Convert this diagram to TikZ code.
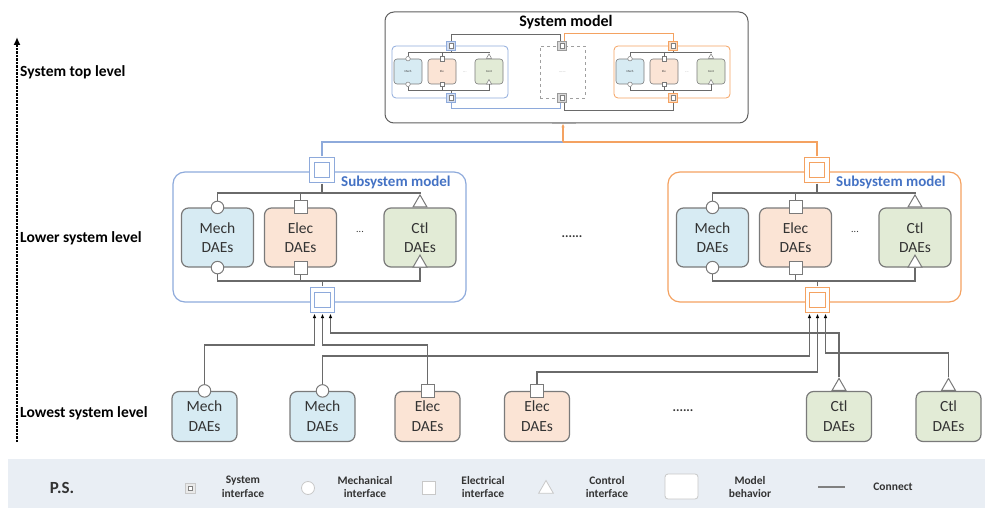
\documentclass[tikz,border=0pt]{standalone}
\usepackage{fontspec}
\setmainfont{Carlito}
\usetikzlibrary{arrows.meta,shapes.geometric,calc}

\definecolor{boxgray}{HTML}{7A7A7A}
\definecolor{linegray}{HTML}{6A6A6A}
\definecolor{subblue}{HTML}{8EAADB}
\definecolor{titleblue}{HTML}{4472C4}
\definecolor{suborange}{HTML}{F4A261}
\definecolor{mechfill}{HTML}{D7EBF3}
\definecolor{elecfill}{HTML}{FBE4D5}
\definecolor{ctlfill}{HTML}{E2EBD6}
\definecolor{bandfill}{HTML}{E9EEF4}
\definecolor{legendgray}{HTML}{C8C8C8}
\definecolor{textdark}{HTML}{333333}
\definecolor{framegray}{HTML}{5F5F5F}
\definecolor{ifgray}{HTML}{9A9A9A}

\begin{document}
\begin{tikzpicture}[x=1pt,y=-1pt,
  daebox/.style={draw=boxgray, line width=1.2pt, rounded corners=7pt, align=center,
    inner sep=0pt, text=textdark, font=\fontsize{15.5}{19}\selectfont},
  mechbox/.style={daebox, fill=mechfill},
  elecbox/.style={daebox, fill=elecfill},
  ctlbox/.style={daebox, fill=ctlfill},
  midsize/.style={minimum width=72pt, minimum height=59pt},
  lowsize/.style={minimum width=65pt, minimum height=50pt, font=\fontsize{15.5}{20}\selectfont},
  minisize/.style={minimum width=28pt, minimum height=25pt, rounded corners=3pt,
    line width=0.6pt, font=\fontsize{3}{3.5}\selectfont},
  portbase/.style={draw=boxgray, fill=white, line width=1pt, inner sep=0pt},
  mechport/.style={portbase, circle, minimum size=12.5pt},
  elecport/.style={portbase, rectangle, minimum size=13pt},
  ctlport/.style={portbase, regular polygon, regular polygon sides=3, minimum size=16pt},
  miniport/.style={line width=0.5pt, minimum size=4.5pt},
  minitri/.style={line width=0.5pt, minimum size=6pt},
  conn/.style={draw=linegray, line width=1.2pt},
  miniconn/.style={draw=linegray, line width=0.7pt},
  arr/.style={-{Latex[length=4.5pt,width=3.6pt,color=black]}},
  subif/.style={draw=#1, double=white, double distance=3.4pt, line width=1.2pt,
    fill=white, minimum size=20pt, inner sep=0pt},
  miniif/.style={draw=#1, fill=#1!40, line width=0.6pt, minimum size=9pt, inner sep=0pt,
    path picture={\draw[draw=gray, fill=white, line width=0.4pt]
      ([xshift=-2.3pt,yshift=-2.3pt]path picture bounding box.center) rectangle
      ([xshift=2.3pt,yshift=2.3pt]path picture bounding box.center);}},
  subframe/.style={draw=#1, line width=1.2pt, rounded corners=12pt,
    minimum width=293pt, minimum height=130pt, inner sep=0pt},
  subtitle/.style={text=titleblue, font=\bfseries\fontsize{15}{18}\selectfont,
    anchor=west, inner sep=0pt},
  levtext/.style={font=\bfseries\fontsize{15.5}{18}\selectfont, anchor=west, inner sep=0pt},
  legtext/.style={font=\bfseries\fontsize{11.5}{13.5}\selectfont, align=center,
    text=textdark, inner sep=0pt},
  legicon/.style={draw=legendgray, fill=white, line width=0.8pt, inner sep=0pt},
  dots/.style={font=\bfseries\fontsize{13}{15}\selectfont, text=textdark, inner sep=0pt},
]
\useasboundingbox (0,0) rectangle (985,508);

% ---------- level axis ----------
\coordinate (ax0) at (17,442);
\coordinate (ax1) at (17,37);
\draw[line width=2.8pt, dash pattern=on 2.2pt off 1.3pt,
      -{Latex[length=8pt,width=7pt]}] (ax0) -- (ax1);
\node[levtext] (lv1) at (20,72)  {System top level};
\node[levtext] (lv2) at (20,238) {Lower system level};
\node[levtext] (lv3) at (20,413) {Lowest system level};

% ---------- system model ----------
\node[draw=framegray, line width=1pt, rounded corners=9pt,
      minimum width=363pt, minimum height=111pt, inner sep=0pt] (sysbox) at (566.5,67.5) {};
\draw[line width=1.4pt, draw=gray!70] (552,123.5) -- (576,123.5);
\node[font=\bfseries\fontsize{16}{19}\selectfont, inner sep=0pt] (systitle) at (566,22) {System model};

% dashed placeholder subsystem
\node[draw=gray!75, dashed, line width=0.8pt, minimum width=45pt, minimum height=52pt,
      inner sep=0pt, font=\fontsize{4}{4}\selectfont, text=gray] (gbox) at (562.5,72) {......};
\node[miniif=ifgray] (gT) at (562,46) {};
\node[miniif=ifgray] (gB) at (562,98) {};

% two miniature subsystems
\foreach \s/\dx/\col in {b/0/subblue, o/222/suborange}{
  \node[draw=\col, line width=0.8pt, rounded corners=4pt, minimum width=116pt,
        minimum height=52pt, inner sep=0pt] (\s box) at (450+\dx,72) {};
  \node[mechbox, minisize] (\s mech) at (408+\dx,71.5) {Mech};
  \node[elecbox, minisize] (\s elec) at (442+\dx,71.5) {Ele};
  \node[ctlbox, minisize]  (\s ctl)  at (489+\dx,71.5) {Cont};
  \node[mechport, miniport] (\s mp1) at (\s mech.north) {};
  \node[mechport, miniport] (\s mp2) at (\s mech.south) {};
  \node[elecport, miniport] (\s ep1) at (\s elec.north) {};
  \node[elecport, miniport] (\s ep2) at (\s elec.south) {};
  \node[ctlport, minitri, anchor=south] (\s cp1) at (\s ctl.north) {};
  \node[ctlport, minitri, anchor=south] (\s cp2) at (\s ctl.south) {};
  \node[font=\fontsize{4}{4}\selectfont, text=gray] (\s dd) at (465+\dx,72) {...};
  \draw[miniconn] (\s mp1.north) -- (\s mp1.north |- 0,52) -- (\s cp1.north |- 0,52) -- (\s cp1.north);
  \draw[miniconn] (\s ep1.north) -- (\s ep1.north |- 0,52);
  \draw[miniconn] (\s mp2.south) -- (\s mp2.south |- 0,90) -- (\s cp2.south |- 0,90) -- (\s cp2.south);
  \draw[miniconn] (\s ep2.south) -- (\s ep2.south |- 0,90);
  \node[miniif=\col] (\s ifT) at (451+\dx,46) {};
  \node[miniif=\col] (\s ifB) at (451+\dx,98) {};
  \draw[miniconn] (\s ifT.south) -- (\s ifT.south |- 0,52);
  \draw[miniconn] (\s ifB.north) -- (\s ifB.north |- 0,90);
}

% links between the miniature subsystems
\coordinate (gTl) at ([xshift=-2pt]gT.north);
\coordinate (gTr) at ([xshift=2.5pt]gT.north);
\coordinate (gBl) at ([xshift=-2pt]gB.south);
\coordinate (gBr) at ([xshift=2.5pt]gB.south);
\draw[miniconn] (bifT.north) -- (bifT.north |- 0,34) -| (gTl);
\draw[draw=suborange, line width=0.8pt] (gTr) -- (gTr |- 0,33) -| (oifT.north);
\draw[draw=subblue, line width=0.8pt] (bifB.south) -- (bifB.south |- 0,108) -| (gBl);
\draw[miniconn] (gBr) -- (gBr |- 0,110) -| (oifB.south);

% ---------- subsystem level ----------
\foreach \s/\dx/\col in {l/0/subblue, r/495/suborange}{
  \node[subframe=\col] (\s sub) at (319.5+\dx,237) {};
  \node[mechbox, midsize] (\s mech) at (217.5+\dx,237.5) {Mech\\DAEs};
  \node[elecbox, midsize] (\s elec) at (300.5+\dx,237.5) {Elec\\DAEs};
  \node[ctlbox, midsize]  (\s ctl)  at (420+\dx,237.5) {Ctl\\DAEs};
  \node[dots, font=\fontsize{10}{12}\selectfont] (\s dd) at (360+\dx,232) {...};
  \node[mechport] (\s mp1) at (\s mech.north) {};
  \node[mechport] (\s mp2) at (\s mech.south) {};
  \node[elecport] (\s ep1) at (\s elec.north) {};
  \node[elecport] (\s ep2) at (\s elec.south) {};
  \node[ctlport, anchor=south] (\s cp1) at (\s ctl.north) {};
  \node[ctlport, anchor=south] (\s cp2) at (\s ctl.south) {};
  \node[subif=\col] (\s sysT) at (322+\dx,170) {};
  \node[subif=\col] (\s sysB) at (322.5+\dx,300) {};
  \node[subtitle] (\s title) at (341+\dx,182) {Subsystem model};
  \draw[conn] (\s mp1.north) -- (\s mp1.north |- 0,193) -- (\s cp1.north |- 0,193) -- (\s cp1.north);
  \draw[conn] (\s ep1.north) -- (\s ep1.north |- 0,193);
  \draw[conn] ([yshift=-3pt]\s sysT.south) -- (\s sysT.south |- 0,193);
  \draw[conn] (\s mp2.south) -- (\s mp2.south |- 0,281) -- (\s cp2.south |- 0,281) -- (\s cp2.south);
  \draw[conn] (\s ep2.south) -- (\s ep2.south |- 0,281);
  \draw[conn] ([yshift=3pt]\s sysB.north) -- (\s sysB.north |- 0,281);
}
\node[dots] (middots) at (572,237) {......};

% subsystems feeding the system model
\coordinate (join) at (563,142);
\draw[draw=subblue, line width=1.2pt] ([yshift=3pt]lsysT.north) |- (join);
\draw[draw=suborange, line width=1.2pt] ([yshift=3pt]rsysT.north) |- (join);
\draw[draw=suborange, line width=1.2pt, -{Latex[length=4pt,width=3.5pt]}]
  (join) -- (join |- sysbox.south);

% ---------- lowest level ----------
\node[mechbox, lowsize] (m1) at (204.5,416.5) {Mech\\DAEs};
\node[mechbox, lowsize] (m2) at (322.5,416.5) {Mech\\DAEs};
\node[elecbox, lowsize] (e1) at (427.5,416.5) {Elec\\DAEs};
\node[elecbox, lowsize] (e2) at (537,416.5)   {Elec\\DAEs};
\node[ctlbox, lowsize]  (c1) at (839,416.5)   {Ctl\\DAEs};
\node[ctlbox, lowsize]  (c2) at (948.5,416.5) {Ctl\\DAEs};
\node[dots] (lowdots) at (683,411) {......};

\node[mechport] (m1p) at (m1.north) {};
\node[mechport] (m2p) at (m2.north) {};
\node[elecport] (e1p) at (e1.north) {};
\node[elecport] (e2p) at (e2.north) {};
\node[ctlport, anchor=south] (c1p) at (c1.north) {};
\node[ctlport, anchor=south] (c2p) at (c2.north) {};

% arrow ends under the subsystem interfaces
\coordinate (la1) at ([xshift=-8pt,yshift=-3pt]lsysB.south);
\coordinate (la2) at ([yshift=-3pt]lsysB.south);
\coordinate (la3) at ([xshift=8pt,yshift=-3pt]lsysB.south);
\coordinate (ra1) at ([xshift=-8pt,yshift=-3pt]rsysB.south);
\coordinate (ra2) at ([yshift=-3pt]rsysB.south);
\coordinate (ra3) at ([xshift=8pt,yshift=-3pt]rsysB.south);

\draw[conn, arr] (m1p.north) -- (m1p.north |- 0,345) -| (la1);
\draw[conn, arr] (e1p.north) -- (e1p.north |- 0,345) -| (la2);
\draw[conn, arr] (c1p.north) -- (c1p.north |- 0,333) -| (la3);
\draw[conn, arr] (m2p.north) -- (m2p.north |- 0,356) -| (ra1);
\draw[conn, arr] (e2p.north) -- (e2p.north |- 0,372) -| (ra2);
\draw[conn, arr] (c2p.north) -- (c2p.north |- 0,353) -| (ra3);

% ---------- legend ----------
\node[fill=bandfill, minimum width=977pt, minimum height=49pt, inner sep=0pt] (band) at (496.5,483.5) {};
\node[font=\bfseries\fontsize{17}{20}\selectfont, text=textdark, inner sep=0pt] (ps) at (62,488) {P.S.};
\node[miniif=legendgray, minimum size=10pt] (lgsys) at (190,488) {};
\node[legtext] (lgsyst) at (243,487) {System\\interface};
\node[legicon, circle, minimum size=13pt] (lgmech) at (308,488) {};
\node[legtext] (lgmecht) at (365,487) {Mechanical\\interface};
\node[legicon, rectangle, minimum size=13pt] (lgelec) at (429,488) {};
\node[legtext] (lgelect) at (483,487) {Electrical\\interface};
\node[legicon, regular polygon, regular polygon sides=3, minimum size=17pt] (lgctl) at (546,489) {};
\node[legtext] (lgctlt) at (607,487) {Control\\interface};
\node[legicon, rounded corners=3pt, minimum width=33pt, minimum height=25pt] (lgbeh) at (681.5,486.5) {};
\node[legtext] (lgbeht) at (750,487) {Model\\behavior};
\coordinate (lgc1) at (818,487);
\coordinate (lgc2) at (845,487);
\draw[conn, draw=gray] (lgc1) -- (lgc2);
\node[legtext] (lgcont) at (893,487) {Connect};
\end{tikzpicture}
\end{document}
